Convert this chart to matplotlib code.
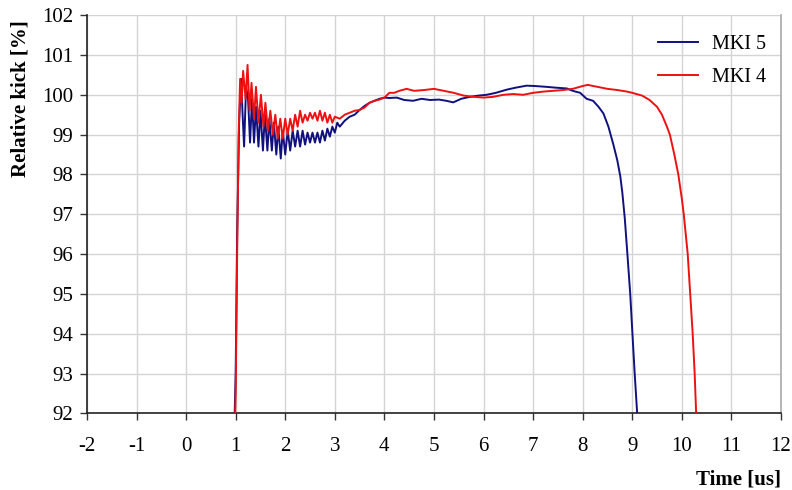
import matplotlib
matplotlib.use("Agg")
import matplotlib.pyplot as plt

# ---- data ----
t_mki5 = [0.97, 1.0, 1.03, 1.07, 1.11, 1.14, 1.17, 1.21, 1.25, 1.29, 1.33, 1.37, 1.41, 1.46,
          1.5, 1.55, 1.59, 1.64, 1.68, 1.73, 1.77, 1.82, 1.86, 1.91, 1.95, 2.0, 2.05, 2.1,
          2.15, 2.2, 2.25, 2.3, 2.35, 2.4, 2.45, 2.5, 2.55, 2.6, 2.65, 2.7, 2.75, 2.8, 2.85,
          2.9, 2.95, 3.0, 3.05, 3.1, 3.2, 3.3, 3.4, 3.5, 3.6, 3.7, 3.8, 3.9, 4.0, 4.1, 4.25,
          4.4, 4.58, 4.75, 4.92, 5.1, 5.25, 5.39, 5.55, 5.73, 5.9, 6.06, 6.25, 6.47, 6.65,
          6.87, 7.05, 7.27, 7.45, 7.68, 7.8, 7.95, 8.08, 8.21, 8.32, 8.42, 8.52, 8.62, 8.7,
          8.76, 8.8, 8.85, 8.9, 8.96, 9.0, 9.05, 9.1, 9.13]
v_mki5 = [91.5, 93.0, 96.5, 99.3, 100.4, 99.5, 98.7, 100.2, 99.9, 98.8, 99.9, 98.8, 99.7, 98.7,
          99.6, 98.6, 99.5, 98.6, 99.4, 98.6, 99.3, 98.5, 99.2, 98.4, 99.1, 98.5, 99.1, 98.6,
          99.1, 98.7, 99.1, 98.7, 99.1, 98.75, 99.05, 98.8, 99.05, 98.8, 99.05, 98.8, 99.1,
          98.85, 99.15, 98.95, 99.2, 99.05, 99.3, 99.2, 99.35, 99.45, 99.5, 99.62, 99.72,
          99.8, 99.85, 99.9, 99.93, 99.92, 99.93, 99.87, 99.85, 99.9, 99.87, 99.88, 99.85,
          99.81, 99.9, 99.95, 99.98, 100.0, 100.05, 100.13, 100.18, 100.23, 100.22, 100.2,
          100.18, 100.16, 100.1, 100.05, 99.9, 99.85, 99.7, 99.53, 99.2, 98.75, 98.35,
          97.95, 97.55, 96.9, 96.05, 95.0, 94.1, 93.0, 92.0, 91.5]

t_mki4 = [0.97, 1.0, 1.03, 1.06, 1.09, 1.12, 1.15, 1.2, 1.24, 1.28, 1.32, 1.37, 1.41, 1.46,
          1.51, 1.56, 1.6, 1.65, 1.7, 1.75, 1.8, 1.85, 1.9, 1.95, 2.0, 2.05, 2.1, 2.15, 2.2,
          2.25, 2.3, 2.35, 2.4, 2.45, 2.5, 2.55, 2.6, 2.65, 2.7, 2.75, 2.8, 2.85, 2.9, 2.95,
          3.0, 3.1, 3.2, 3.3, 3.4, 3.5, 3.6, 3.7, 3.8, 3.9, 4.0, 4.1, 4.2, 4.3, 4.45, 4.6,
          4.8, 5.0, 5.2, 5.4, 5.6, 5.8, 6.0, 6.2, 6.4, 6.6, 6.8, 7.0, 7.2, 7.4, 7.6, 7.8, 8.0,
          8.1, 8.3, 8.5, 8.7, 8.9, 9.0, 9.2, 9.35, 9.5, 9.6, 9.7, 9.76, 9.85, 9.93, 10.0,
          10.04, 10.12, 10.17, 10.22, 10.26, 10.29, 10.32]
v_mki4 = [91.0, 92.5, 96.0, 99.0, 100.4, 99.8, 100.6, 99.9, 100.75, 99.6, 100.3, 99.4, 100.2,
          99.3, 100.0, 99.2, 99.8, 99.1, 99.6, 99.0, 99.5, 98.9, 99.4, 98.9, 99.4, 99.0, 99.4,
          99.1, 99.5, 99.2, 99.6, 99.3, 99.5, 99.35, 99.55, 99.4, 99.55, 99.35, 99.6, 99.35,
          99.55, 99.3, 99.5, 99.3, 99.45, 99.4, 99.5, 99.55, 99.6, 99.62, 99.68, 99.8, 99.85,
          99.88, 99.93, 100.05, 100.05, 100.1, 100.15, 100.1, 100.12, 100.15, 100.1, 100.05,
          99.98, 99.95, 99.93, 99.95, 100.0, 100.02, 100.0, 100.05, 100.08, 100.1, 100.12,
          100.15, 100.22, 100.25, 100.2, 100.15, 100.12, 100.08, 100.05, 99.98, 99.87, 99.7,
          99.5, 99.2, 99.0, 98.5, 98.0, 97.4, 97.0, 96.0, 95.0, 94.0, 93.0, 92.0, 91.5]

x_ticks = list(range(-2, 13))
y_ticks = list(range(92, 103))

plt.rcParams['font.family'] = ['Liberation Serif', 'DejaVu Serif']

fig = plt.figure(figsize=(7.92, 4.90), dpi=100)
ax = fig.add_axes([0.1098, 0.1565, 0.8762, 0.8125])

ax.plot(t_mki5, v_mki5, color='#10107f', lw=1.4, label='MKI 5', zorder=3)
ax.plot(t_mki4, v_mki4, color='#ee1111', lw=1.4, label='MKI 4', zorder=3)

ax.set_xlim(-2, 12)
ax.set_ylim(92, 102)
ax.set_xticks(x_ticks)
ax.set_yticks(y_ticks)
ax.set_xticklabels([str(v) for v in x_ticks])
ax.set_yticklabels([str(v) for v in y_ticks])
ax.grid(True, color='#d4d4d4', lw=1.0)
ax.set_axisbelow(True)
ax.tick_params(axis='both', labelsize=15, length=5, width=1, color='#333333', direction='out')
ax.tick_params(axis='x', pad=12)
ax.tick_params(axis='y', pad=5)

for s in ['left', 'bottom']:
    ax.spines[s].set_color('#222222')
    ax.spines[s].set_linewidth(1.2)
ax.spines['top'].set_visible(False)
ax.spines['right'].set_color('#aaaaaa')
ax.spines['right'].set_linewidth(1.2)

ax.text(-0.096, 0.79, 'Relative kick [%]', transform=ax.transAxes, rotation=90,
        ha='center', va='center', fontsize=15, fontweight='bold')
ax.text(1.0, -0.165, 'Time [us]', transform=ax.transAxes, ha='right', va='center',
        fontsize=15, fontweight='bold')

leg = ax.legend(loc='upper right', frameon=False, fontsize=14.5, handlelength=2.0,
                bbox_to_anchor=(1.005, 0.995), labelspacing=0.65, handletextpad=0.7)

fig.savefig('out.png', dpi=100)
